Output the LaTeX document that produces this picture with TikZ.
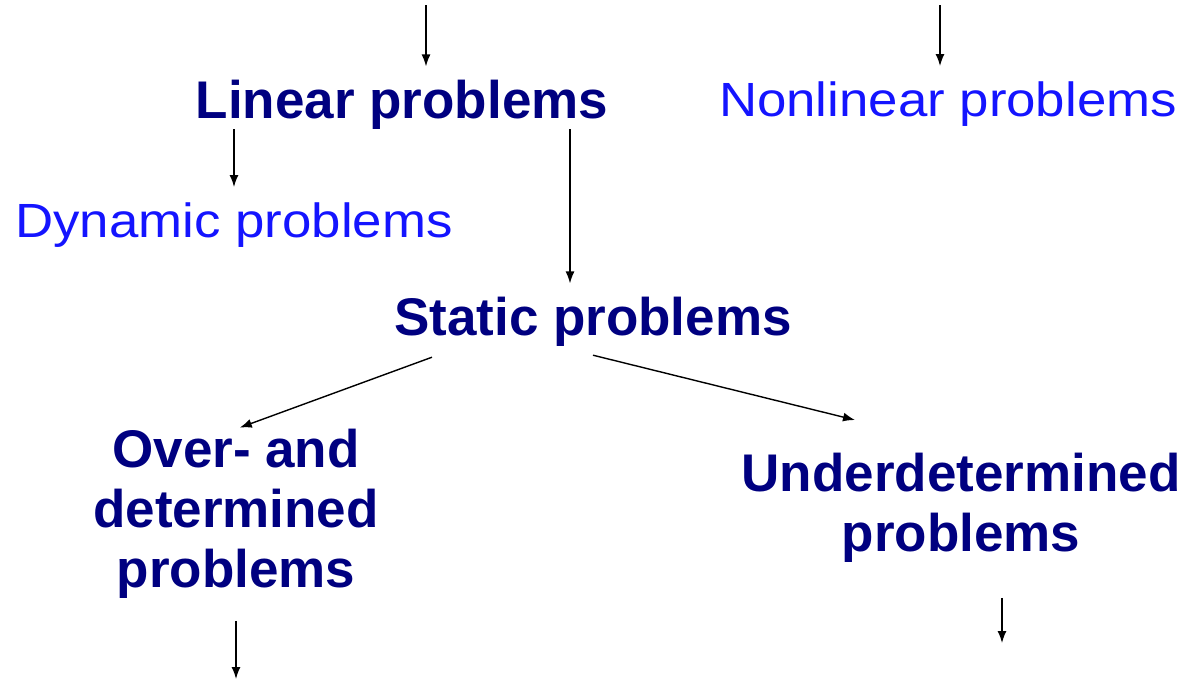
\documentclass[tikz,border=0pt]{standalone}
\usepackage{fontspec}
\setmainfont{Liberation Sans}
\usetikzlibrary{arrows.meta}
\definecolor{navy}{RGB}{0,0,128}
\definecolor{vivid}{RGB}{20,20,255}
\newcommand{\wide}[1]{\scalebox{1.1}[1]{#1}}
\tikzset{
    heavy/.style={inner sep=0pt, text=navy, align=center, font=\bfseries\fontsize{53}{60}\selectfont},
    light/.style={inner sep=0pt, text=vivid, font=\fontsize{48}{58}\selectfont},
    link/.style={-{Latex[length=12pt,width=9pt]}, line width=1.4pt}
}

\begin{document}
\begin{tikzpicture}[x=1pt, y=-1pt]
            \useasboundingbox (0,0) rectangle (1182,678);
            \node[heavy, anchor=base] (lin) at (402,118) {Linear problems};
            \node[light, anchor=base] (nonlin) at (948,116) {\wide{Nonlinear problems}};
            \node[light, anchor=base] (dyn) at (234,237) {\wide{Dynamic problems}};
            \node[heavy, anchor=base] (stat) at (593,335) {Static problems};
            \node[heavy, anchor=north] (over) at (236,429) {Over- and\\determined\\problems};
            \node[heavy, anchor=north] (under) at (961,453) {Underdetermined\\problems};
            \coordinate (inL) at (426,5);
            \coordinate (inR) at (940,5);
            \coordinate (outL) at (236,679);
            \coordinate (outR) at (1002,643);
            \draw[link, shorten >=13pt]
                (inL) -- (inL |- lin.north);
            \draw[link, shorten >=15pt]
                (inR) -- (inR |- nonlin.north);
            \draw[link, shorten >=15pt]
                (lin.south -| dyn.north) -- (dyn.north);
            \draw[link, shorten >=13pt]
                ([xshift=168pt]lin.south) -- ([xshift=-23pt]stat.north);
            \draw[link, shorten >=4pt]
                ([xshift=-161pt,yshift=-11pt]stat.south) -- (over.north);
            \draw[link]
                ([yshift=-9pt]stat.south) -- ([xshift=-106pt,yshift=33pt]under.north);
            \draw[link]
                ([yshift=-22pt]over.south) -- (outL);
            \draw[link]
                ([xshift=41pt,yshift=-35pt]under.south) -- (outR);
        \end{tikzpicture}
\end{document}
